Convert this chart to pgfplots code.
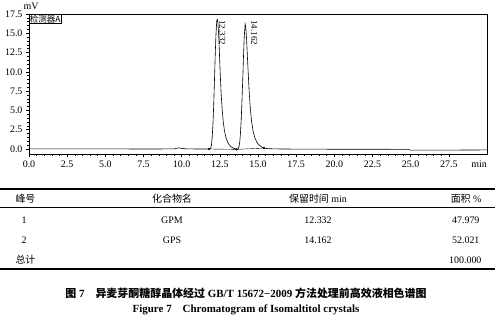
\documentclass[border=0pt]{standalone}
\usepackage{pgfplots}
\pgfplotsset{compat=1.18}
\usepackage{fontspec}
\setmainfont{Liberation Serif}
\newfontfamily\cjk{Noto Sans CJK SC}
\begin{document}
\begin{tikzpicture}
\path[use as bounding box] (0bp,0bp) rectangle (495bp,-322bp);
\begin{axis}[
  at={(29bp,-154bp)}, anchor=south west,
  scale only axis, width=458bp, height=140bp,
  xmin=0, xmax=30, ymin=-0.65, ymax=17.5,
  xtick={0,2.5,...,27.5}, ytick={0,2.5,...,17.5},
  minor x tick num=4, minor y tick num=4,
  tick align=outside, xtick pos=left, ytick pos=left,
  major tick length=3bp, minor tick length=1.5bp,
  tick style={black, line width=0.5pt},
  tick label style={font=\fontsize{10}{10}\selectfont},
  xticklabel style={/pgf/number format/.cd, fixed, fixed zerofill, precision=1},
  yticklabel style={/pgf/number format/.cd, fixed, fixed zerofill, precision=1},
  /pgf/number format/assume math mode=true,
  xticklabel={\pgfmathprintnumber[fixed,fixed zerofill,precision=1]{\tick}},
  yticklabel={\pgfmathprintnumber[fixed,fixed zerofill,precision=1]{\tick}},
  axis line style={line width=0.6pt},
  clip=false,
]
\addplot[black, line width=0.6pt] coordinates {
(0,0.02) (2,0.02) (5,0.01) (8,0.0) (9.5,0.01) (9.7,0.1) (9.85,0.15) (10.0,0.08) (10.3,0.02) (11,0) (11.8,0)
(11.90,0.1) (11.95,0.5) (12.00,1.5) (12.05,3.2) (12.10,5.8) (12.15,9.0) (12.20,12.3) (12.25,15.0) (12.30,16.6)
(12.33,16.8) (12.37,16.5) (12.42,15.0) (12.47,12.6) (12.52,10.0) (12.58,7.4) (12.65,5.2) (12.72,3.6) (12.80,2.4)
(12.90,1.5) (13.00,0.95) (13.10,0.6) (13.20,0.35) (13.30,0.2) (13.40,0.1) (13.50,0.03) (13.60,-0.05) (13.70,0.0)
(13.75,0.3) (13.80,0.8) (13.85,2.0) (13.90,3.8) (13.95,6.2) (14.00,9.0) (14.05,12.0) (14.10,14.6) (14.16,16.2)
(14.20,15.8) (14.25,14.3) (14.30,12.2) (14.36,9.8) (14.42,7.5) (14.50,5.2) (14.58,3.6) (14.68,2.3) (14.80,1.4)
(14.95,0.8) (15.10,0.45) (15.25,0.25) (15.40,0.12) (15.55,0.06) (15.8,0.03) (16,0.02) (16.5,0.0) (18,-0.02)
(20,-0.03) (22.5,-0.03) (24.8,-0.05) (25,-0.15) (27,-0.15) (30,-0.12)
};
\addplot[black, line width=0.4pt, mark=*, mark size=0.9pt] coordinates {(11.8,0) (13.6,-0.05) (15.4,0.12)};
\node[anchor=south, inner sep=0pt, font=\fontsize{10}{10}\selectfont, xshift=2bp, yshift=4bp] at (rel axis cs:0,1) {mV};
\node[draw, anchor=north west, inner sep=0.8bp, line width=0.4pt, font=\cjk\fontsize{8.5}{9}\selectfont] at (rel axis cs:0,1) {检测器A};
\node[rotate=-90, anchor=south west, inner sep=0pt, font=\fontsize{9}{9}\selectfont] at (axis cs:12.45,16.7) {12.332};
\node[rotate=-90, anchor=south west, inner sep=0pt, font=\fontsize{9}{9}\selectfont] at (axis cs:14.55,16.7) {14.162};
\node[anchor=north east, inner sep=0pt, font=\fontsize{10}{10}\selectfont] at ([yshift=-7bp]rel axis cs:1,0) {min};
\end{axis}
\begin{scope}[x=1bp, y=-1bp, font=\fontsize{10}{12}\selectfont]
\draw[line width=1.1pt] (0,189) -- (495,189);
\draw[line width=0.5pt] (0,207) -- (495,207);
\draw[line width=1.1pt] (0,269) -- (495,269);
\node[anchor=west] at (12,199) {\cjk 峰号};
\node at (172,199) {\cjk 化合物名};
\node at (318,199) {{\cjk 保留时间} min};
\node[anchor=east] at (485,199) {{\cjk 面积} \%};
\node at (24,220) {1};
\node at (172,220) {GPM};
\node at (318,220) {12.332};
\node[anchor=east] at (483,220) {47.979};
\node at (24,240) {2};
\node at (172,240) {GPS};
\node at (318,240) {14.162};
\node[anchor=east] at (483,240) {52.021};
\node[anchor=west] at (12,260) {\cjk 总计};
\node[anchor=east] at (485,260) {100.000};
\node[font=\fontsize{11}{12}\selectfont\bfseries] at (246,293) {{\cjk 图} 7\quad{\cjk 异麦芽酮糖醇晶体经过} GB/T 15672−2009 {\cjk 方法处理前高效液相色谱图}};
\node[font=\fontsize{11}{12}\selectfont\bfseries] at (246,310) {Figure 7\quad Chromatogram of Isomaltitol crystals};
\end{scope}
\end{tikzpicture}
\end{document}
